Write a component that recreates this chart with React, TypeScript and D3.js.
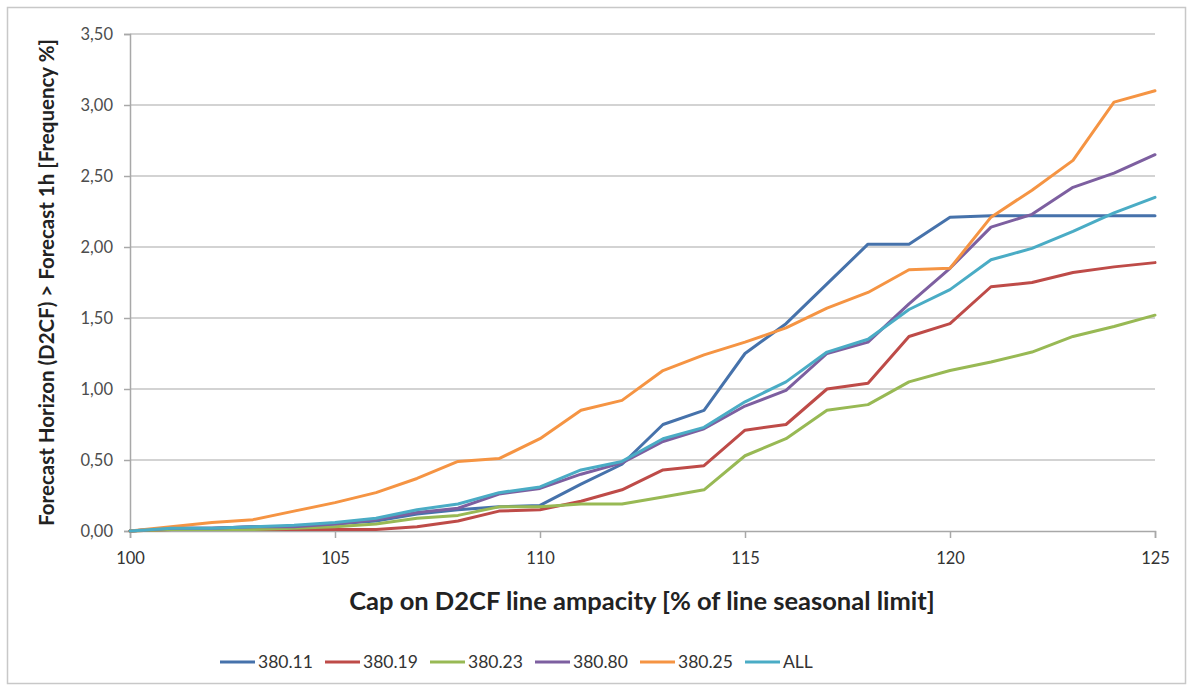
import React, { useEffect, useRef } from 'react';
import * as d3 from 'd3';

const caps = [100, 101, 102, 103, 104, 105, 106, 107, 108, 109, 110, 111, 112, 113, 114, 115, 116, 117, 118, 119, 120, 121, 122, 123, 124, 125];

const s38011 = [0, 0.02, 0.02, 0.03, 0.03, 0.05, 0.07, 0.12, 0.15, 0.17, 0.18, 0.33, 0.47, 0.75, 0.85, 1.25, 1.46, 1.74, 2.02, 2.02, 2.21, 2.22, 2.22, 2.22, 2.22, 2.22];
const s38019 = [0, 0.01, 0.01, 0.01, 0.01, 0.01, 0.01, 0.03, 0.07, 0.14, 0.15, 0.21, 0.29, 0.43, 0.46, 0.71, 0.75, 1.0, 1.04, 1.37, 1.46, 1.72, 1.75, 1.82, 1.86, 1.89];
const s38023 = [0, 0.01, 0.01, 0.01, 0.02, 0.03, 0.05, 0.09, 0.11, 0.17, 0.17, 0.19, 0.19, 0.24, 0.29, 0.53, 0.65, 0.85, 0.89, 1.05, 1.13, 1.19, 1.26, 1.37, 1.44, 1.52];
const s38080 = [0, 0.02, 0.02, 0.03, 0.03, 0.05, 0.08, 0.13, 0.16, 0.26, 0.3, 0.4, 0.48, 0.63, 0.72, 0.88, 0.99, 1.25, 1.33, 1.6, 1.85, 2.14, 2.23, 2.42, 2.52, 2.65];
const s38025 = [0, 0.03, 0.06, 0.08, 0.14, 0.2, 0.27, 0.37, 0.49, 0.51, 0.65, 0.85, 0.92, 1.13, 1.24, 1.33, 1.43, 1.57, 1.68, 1.84, 1.85, 2.21, 2.4, 2.61, 3.02, 3.1];
const sAll = [0, 0.02, 0.02, 0.03, 0.04, 0.06, 0.09, 0.15, 0.19, 0.27, 0.31, 0.43, 0.49, 0.65, 0.73, 0.91, 1.05, 1.26, 1.35, 1.56, 1.7, 1.91, 1.99, 2.11, 2.24, 2.35];

const seriesNames = ['380.11', '380.19', '380.23', '380.80', '380.25', 'ALL'];
const seriesValues = [s38011, s38019, s38023, s38080, s38025, sAll];
const seriesColors = ['#4672ab', '#be4b48', '#98b954', '#7d5fa0', '#f59443', '#4aacc5'];

const xTicks = [100, 105, 110, 115, 120, 125];
const yTicks = [0, 0.5, 1, 1.5, 2, 2.5, 3, 3.5];

const xTitle = 'Cap on D2CF line ampacity [% of line seasonal limit]';
const yTitle = 'Forecast Horizon (D2CF) > Forecast 1h [Frequency %]';

const W = 1193;
const H = 691;
const FONT = 'Lato, "Open Sans", "Liberation Sans", sans-serif';

export default function App() {
  const ref = useRef<SVGSVGElement | null>(null);

  useEffect(() => {
    if (!ref.current) return;
    const svg = d3.select(ref.current);
    svg.selectAll('*').remove();

    const M = { left: 130, right: 1155, top: 34, bottom: 531 };
    const x = d3.scaleLinear().domain([100, 125]).range([M.left, M.right]);
    const y = d3.scaleLinear().domain([0, 3.5]).range([M.bottom, M.top]);

    svg.append('rect')
      .attr('x', 7.5).attr('y', 7.5)
      .attr('width', W - 15).attr('height', H - 15)
      .attr('fill', '#fff').attr('stroke', '#c8c8c8').attr('stroke-width', 1.5);

    // gridlines
    svg.append('g')
      .selectAll('line')
      .data(yTicks.filter(t => t > 0))
      .enter()
      .append('line')
      .attr('x1', M.left).attr('x2', M.right)
      .attr('y1', d => y(d)).attr('y2', d => y(d))
      .attr('stroke', '#c4c4c4').attr('stroke-width', 1.5);

    // y axis
    const yAxis = d3.axisLeft(y)
      .tickValues(yTicks)
      .tickSize(6)
      .tickPadding(11)
      .tickFormat(d => d3.format('.2f')(Number(d)).replace('.', ','));
    svg.append('g')
      .attr('transform', `translate(${M.left},0)`)
      .call(yAxis)
      .call(s => s.select('.domain').attr('stroke', '#a8a8a8').attr('stroke-width', 1.5))
      .call(s => s.selectAll('.tick line').attr('stroke', '#a8a8a8').attr('stroke-width', 1.5))
      .call(s => s.selectAll('text')
        .attr('fill', '#4d4d4d')
        .attr('font-size', 16.5)
        .attr('font-family', FONT));

    // x axis
    const xAxis = d3.axisBottom(x)
      .tickValues(xTicks)
      .tickSize(7)
      .tickPadding(14)
      .tickFormat(d => String(d));
    svg.append('g')
      .attr('transform', `translate(0,${M.bottom})`)
      .call(xAxis)
      .call(s => s.select('.domain').attr('stroke', '#a8a8a8').attr('stroke-width', 1.5))
      .call(s => s.selectAll('.tick line').attr('stroke', '#a8a8a8').attr('stroke-width', 1.5))
      .call(s => s.selectAll('text')
        .attr('fill', '#333')
        .attr('font-size', 16.5)
        .attr('font-family', FONT));

    // lines
    const line = d3.line<number>()
      .x((_, i) => x(caps[i]))
      .y(d => y(d));

    seriesValues.forEach((vals, i) => {
      svg.append('path')
        .datum(vals)
        .attr('d', line)
        .attr('fill', 'none')
        .attr('stroke', seriesColors[i])
        .attr('stroke-width', 3)
        .attr('stroke-linejoin', 'round')
        .attr('stroke-linecap', 'round');
    });

    // titles
    svg.append('text')
      .attr('x', 642)
      .attr('y', 610)
      .attr('text-anchor', 'middle')
      .attr('font-size', 25.5)
      .attr('font-weight', 'bold')
      .attr('font-family', FONT)
      .attr('fill', '#222')
      .text(xTitle);

    svg.append('text')
      .attr('transform', `translate(54,${(M.top + M.bottom) / 2}) rotate(-90)`)
      .attr('text-anchor', 'middle')
      .attr('font-size', 20.5)
      .attr('font-weight', 'bold')
      .attr('font-family', FONT)
      .attr('fill', '#222')
      .text(yTitle);

    // legend
    const lg = svg.append('g').attr('transform', 'translate(220,662)');
    seriesNames.forEach((name, i) => {
      const item = lg.append('g').attr('transform', `translate(${i * 105},0)`);
      item.append('line')
        .attr('x1', 0).attr('x2', 35)
        .attr('y1', 0).attr('y2', 0)
        .attr('stroke', seriesColors[i]).attr('stroke-width', 3);
      item.append('text')
        .attr('x', 38).attr('y', 0)
        .attr('dy', '0.35em')
        .attr('font-size', 17.5)
        .attr('font-family', FONT)
        .attr('fill', '#333')
        .text(name);
    });
  }, []);

  return (
    <svg
      ref={ref}
      width={W}
      height={H}
      style={{ position: 'absolute', left: 0, top: 0, background: '#fff' }}
    />
  );
}
